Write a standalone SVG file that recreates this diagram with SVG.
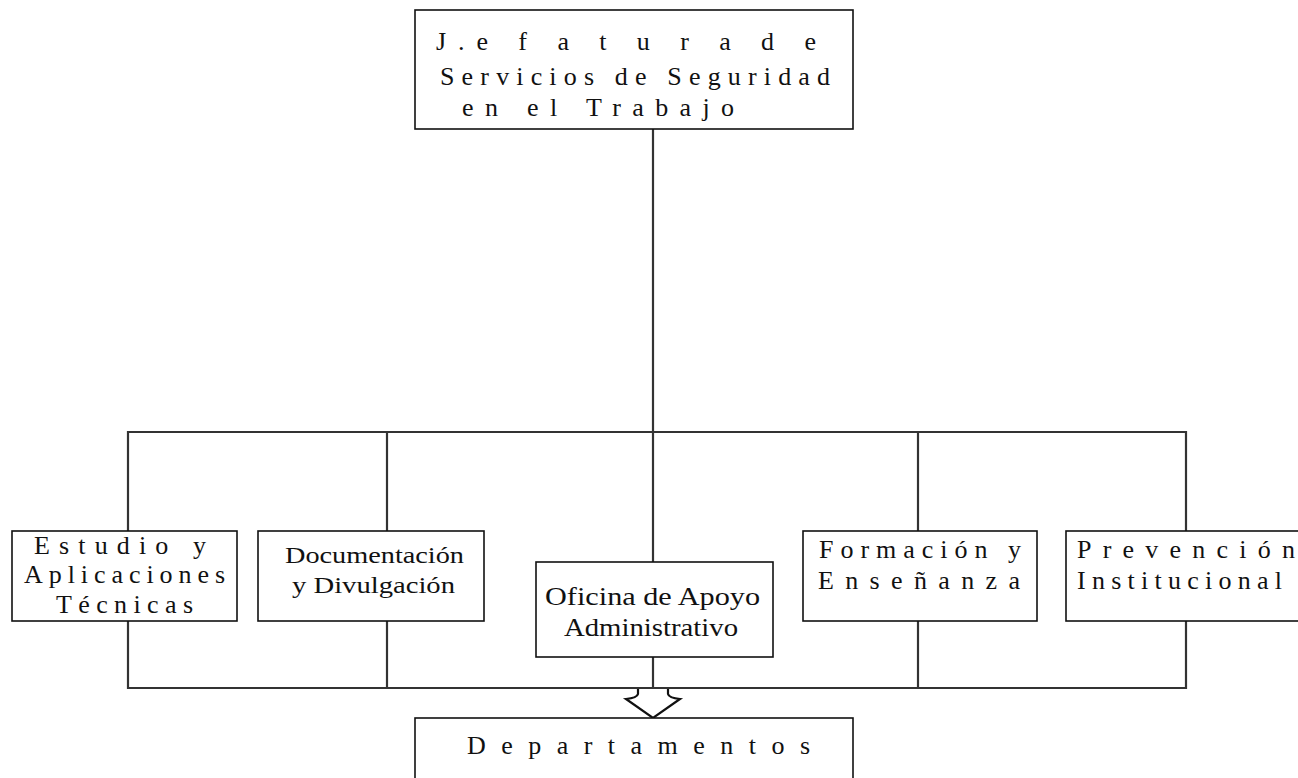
<svg xmlns="http://www.w3.org/2000/svg" width="1298" height="778" viewBox="0 0 1298 778">
<style>
.box{fill:#fff;stroke:#111;stroke-width:1.6}
.ln{fill:none;stroke:#333;stroke-width:2.2}
.t{font-family:"Liberation Serif",serif;font-size:26px;fill:#111}
.s{font-family:"Liberation Serif",serif;font-size:23px;fill:#111}
</style>
<rect width="1298" height="778" fill="#fff"/>
<g id="connectors">
<line class="ln" x1="653" y1="129" x2="653" y2="432"/>
<polyline class="ln" points="128,531 128,432 1186,432 1186,531"/>
<line class="ln" x1="387" y1="432" x2="387" y2="531"/>
<line class="ln" x1="653" y1="432" x2="653" y2="562"/>
<line class="ln" x1="918" y1="432" x2="918" y2="531"/>
<polyline class="ln" points="128,621 128,688 1186,688 1186,621"/>
<line class="ln" x1="387" y1="621" x2="387" y2="688"/>
<line class="ln" x1="653" y1="657" x2="653" y2="688"/>
<line class="ln" x1="918" y1="621" x2="918" y2="688"/>
<path d="M638,689 L638,694 Q637,698 626,699 L653,718 L680,699 Q669,698 668,694 L668,689" fill="#fff" stroke="#111" stroke-width="2.2" stroke-linejoin="miter"/>
</g>
<g id="jefatura">
<rect class="box" x="415" y="10" width="438" height="119"/>
<text class="t" x="436" y="50" textLength="380" lengthAdjust="spacing">J.e f a t u r a  d e</text>
<text class="t" x="440" y="85" textLength="390" lengthAdjust="spacing">Servicios de Seguridad</text>
<text class="t" x="462" y="116" textLength="272" lengthAdjust="spacing">en el Trabajo</text>
</g>
<g id="estudio">
<rect class="box" x="12" y="531" width="225" height="90"/>
<text class="t" x="34" y="554" textLength="172" lengthAdjust="spacing">Estudio y</text>
<text class="t" x="24" y="583" textLength="201" lengthAdjust="spacing">Aplicaciones</text>
<text class="t" x="56" y="613" textLength="137" lengthAdjust="spacing">Técnicas</text>
</g>
<g id="documentacion">
<rect class="box" x="258" y="531" width="226" height="90"/>
<text class="s" x="285" y="563" textLength="179" lengthAdjust="spacingAndGlyphs">Documentación</text>
<text class="s" x="292" y="593" textLength="163" lengthAdjust="spacingAndGlyphs">y Divulgación</text>
</g>
<g id="oficina">
<rect class="box" x="536" y="562" width="237" height="95"/>
<text class="t" x="545" y="605" textLength="215" lengthAdjust="spacingAndGlyphs">Oficina de Apoyo</text>
<text class="t" x="564" y="636" textLength="174" lengthAdjust="spacingAndGlyphs">Administrativo</text>
</g>
<g id="formacion">
<rect class="box" x="803" y="531" width="234" height="90"/>
<text class="t" x="819" y="558" textLength="202" lengthAdjust="spacing">Formación y</text>
<text class="t" x="818" y="589" textLength="202" lengthAdjust="spacing">Enseñanza</text>
</g>
<g id="prevencion">
<rect class="box" x="1066" y="531" width="240" height="90"/>
<text class="t" x="1077" y="558" textLength="218" lengthAdjust="spacing">Prevención</text>
<text class="t" x="1077" y="589" textLength="205" lengthAdjust="spacing">Institucional</text>
</g>
<g id="departamentos">
<rect class="box" x="415" y="718" width="438" height="70"/>
<text class="t" x="467" y="754" textLength="343" lengthAdjust="spacing">Departamentos</text>
</g>
</svg>
